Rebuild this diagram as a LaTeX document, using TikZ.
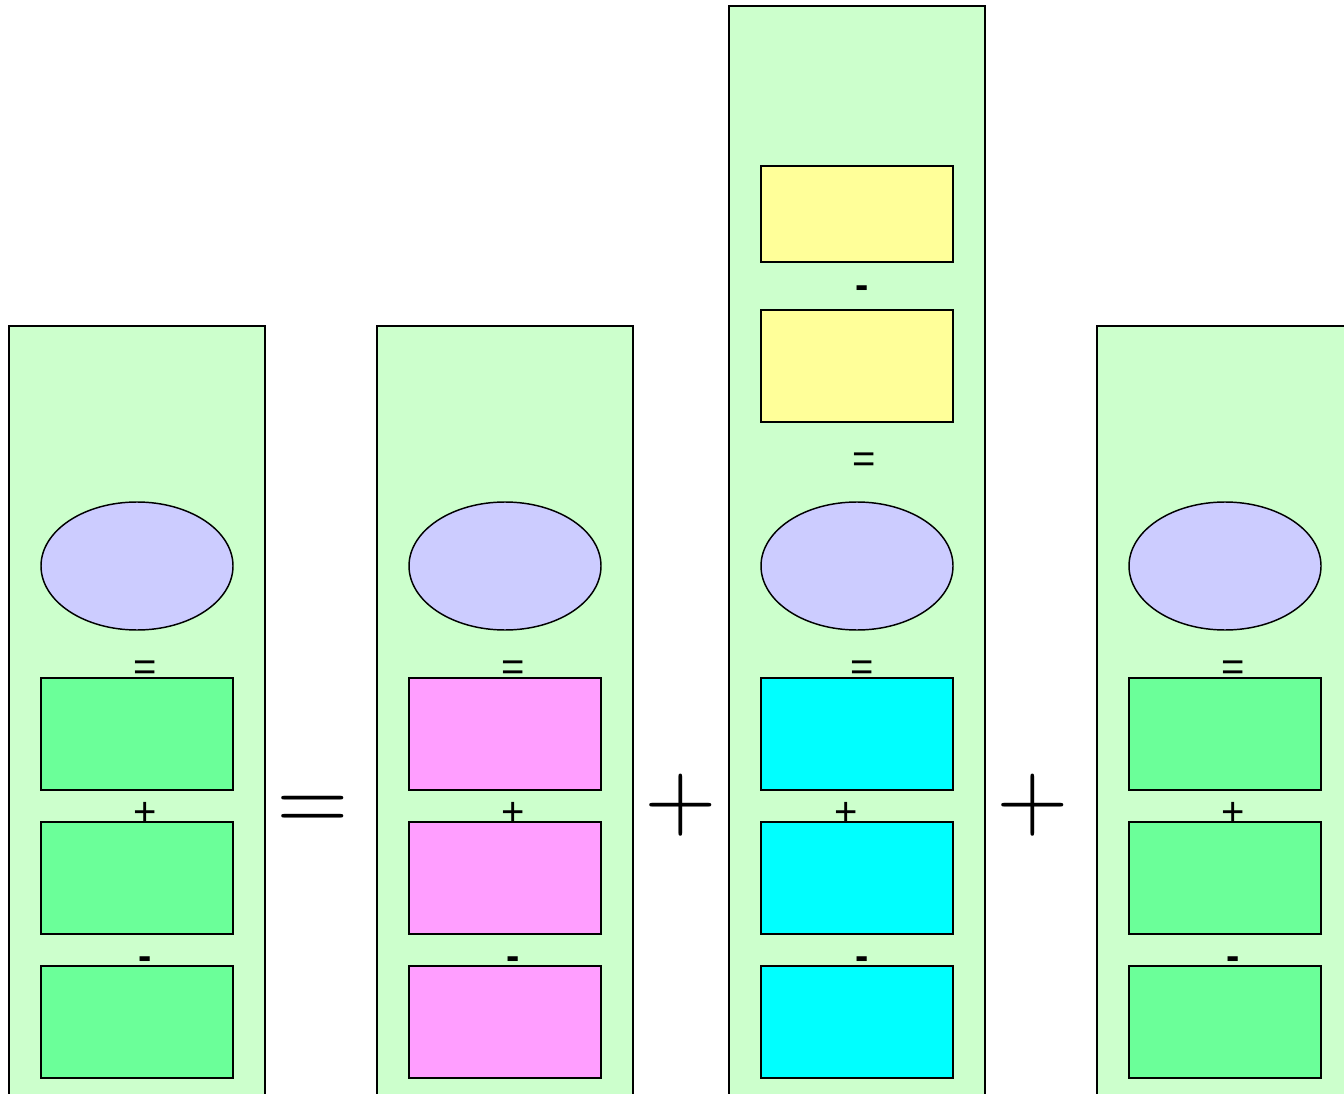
\documentclass[tikz,border=0pt]{standalone}
\usepackage{fontspec}
\setmainfont{Liberation Sans}
\usetikzlibrary{shapes.geometric, positioning}
\definecolor{colfill}{RGB}{204, 255, 204}
\definecolor{ovalfill}{RGB}{204, 204, 255}
\definecolor{greenfill}{RGB}{107, 255, 153}
\definecolor{pinkfill}{RGB}{255, 158, 255}
\definecolor{cyanfill}{RGB}{0, 255, 255}
\definecolor{yellowfill}{RGB}{255, 255, 153}

\tikzset{
    colbox/.style={draw, fill=colfill, line width=1.1pt, minimum width=192pt, inner sep=0pt},
    ovalbox/.style={draw, fill=ovalfill, ellipse, line width=1.1pt, minimum width=144pt, minimum height=96pt, inner sep=0pt},
    cellbox/.style={draw, line width=1.1pt, minimum width=144pt, minimum height=84pt, inner sep=0pt},
    opsign/.style={inner sep=0pt, font=\fontsize{30}{30}\selectfont},
    bigsign/.style={inner sep=0pt}
}

\begin{document}
\begin{tikzpicture}[x=0.75pt, y=-0.75pt]
    \useasboundingbox (0, 0) rectangle (1344, 1094);
    \clip (0, 0) rectangle (1344, 1094);

    % Columns
    \node[colbox, minimum height=580.5pt] (colA) at (137, 713) {};
    \node[colbox, minimum height=580.5pt] (colB) at (505, 713) {};
    \node[colbox, minimum height=820.5pt] (colC) at (857, 553) {};
    \node[colbox, minimum height=580.5pt] (colD) at (1225, 713) {};

    % Left column
    \node[ovalbox] (ovalA) at (137, 566) {};
    \node[cellbox, fill=greenfill] (cellA1) at (137, 734) {};
    \node[cellbox, fill=greenfill] (cellA2) at (137, 878) {};
    \node[cellbox, fill=greenfill] (cellA3) at (137, 1022) {};
    \node[opsign] (eqA) at (145, 671) {=};
    \node[opsign] (plusA) at (145, 814) {+};
    \node[opsign] (minusA) at (145, 963) {\bfseries -};

    % Second column
    \node[ovalbox] (ovalB) at (505, 566) {};
    \node[cellbox, fill=pinkfill] (cellB1) at (505, 734) {};
    \node[cellbox, fill=pinkfill] (cellB2) at (505, 878) {};
    \node[cellbox, fill=pinkfill] (cellB3) at (505, 1022) {};
    \node[opsign] (eqB) at (513, 671) {=};
    \node[opsign] (plusB) at (513, 814) {+};
    \node[opsign] (minusB) at (513, 963) {\bfseries -};

    % Third column
    \node[cellbox, fill=yellowfill, minimum height=72pt] (cellC0) at (857, 214) {};
    \node[cellbox, fill=yellowfill] (cellC00) at (857, 366) {};
    \node[opsign] (minusC0) at (862, 292) {\bfseries -};
    \node[opsign] (eqC0) at (864, 463) {=};
    \node[ovalbox] (ovalC) at (857, 566) {};
    \node[cellbox, fill=cyanfill] (cellC1) at (857, 734) {};
    \node[cellbox, fill=cyanfill] (cellC2) at (857, 878) {};
    \node[cellbox, fill=cyanfill] (cellC3) at (857, 1022) {};
    \node[opsign] (eqC) at (862, 671) {=};
    \node[opsign] (plusC) at (846, 814) {+};
    \node[opsign] (minusC) at (862, 963) {\bfseries -};

    % Right column
    \node[ovalbox] (ovalD) at (1225, 566) {};
    \node[cellbox, fill=greenfill] (cellD1) at (1225, 734) {};
    \node[cellbox, fill=greenfill] (cellD2) at (1225, 878) {};
    \node[cellbox, fill=greenfill] (cellD3) at (1225, 1022) {};
    \node[opsign] (eqD) at (1233, 671) {=};
    \node[opsign] (plusD) at (1233, 814) {+};
    \node[opsign] (minusD) at (1233, 963) {\bfseries -};

    % Signs between columns
    \node[bigsign] (eqAB) at (313, 813) {\scalebox{7}{$=$}};
    \node[bigsign] (plusBC) at (681, 805) {\scalebox{7}{$+$}};
    \node[bigsign] (plusCD) at (1033, 805) {\scalebox{7}{$+$}};

\end{tikzpicture}
\end{document}
